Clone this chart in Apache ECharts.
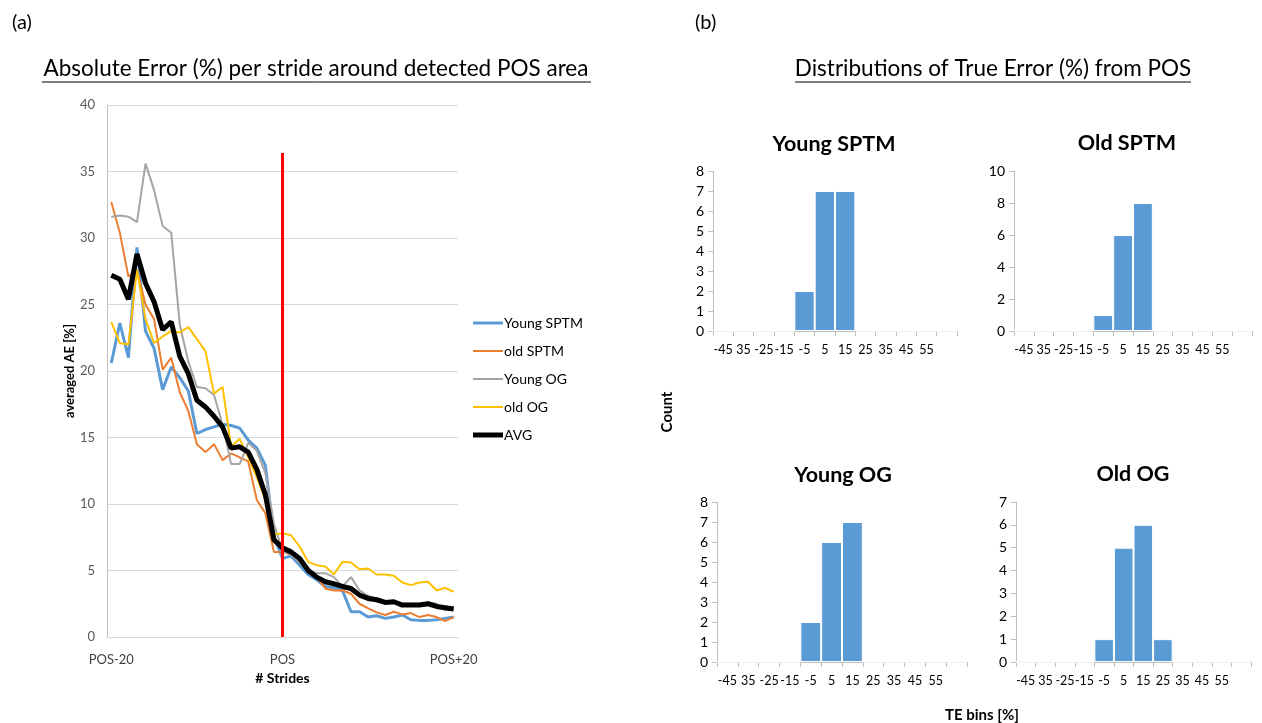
<!DOCTYPE html>
<html>
<head>
<meta charset="utf-8">
<script src="https://cdn.jsdelivr.net/npm/echarts@6/dist/echarts.min.js"></script>
<style>
  html, body { margin: 0; padding: 0; background: #fff; }
  #main { width: 1262px; height: 723px; }
</style>
</head>
<body>
<div id="main"></div>
<script>
// stride positions around detected POS
const strides = [
  'POS-20', 'POS-19', 'POS-18', 'POS-17', 'POS-16', 'POS-15', 'POS-14', 'POS-13', 'POS-12', 'POS-11',
  'POS-10', 'POS-9', 'POS-8', 'POS-7', 'POS-6', 'POS-5', 'POS-4', 'POS-3', 'POS-2', 'POS-1',
  'POS',
  'POS+1', 'POS+2', 'POS+3', 'POS+4', 'POS+5', 'POS+6', 'POS+7', 'POS+8', 'POS+9', 'POS+10',
  'POS+11', 'POS+12', 'POS+13', 'POS+14', 'POS+15', 'POS+16', 'POS+17', 'POS+18', 'POS+19', 'POS+20'
]

const youngSPTM = [20.6, 23.6, 21.0, 29.3, 23.0, 21.7, 18.6, 20.3, 19.5, 18.5,
  15.3, 15.6, 15.8, 16.0, 15.9, 15.7, 14.8, 14.2, 12.9, 7.6,
  5.9, 6.1, 5.4, 4.7, 4.3, 3.8, 3.7, 3.5, 1.9, 1.9,
  1.5, 1.6, 1.4, 1.5, 1.65, 1.3, 1.25, 1.25, 1.3, 1.4, 1.5]
const oldSPTM = [32.7, 30.4, 27.1, 27.6, 25.0, 23.9, 20.1, 21.0, 18.4, 17.0,
  14.5, 13.9, 14.5, 13.3, 13.8, 13.5, 13.2, 10.3, 9.3, 6.4,
  6.4, 6.2, 5.65, 5.0, 4.5, 3.65, 3.5, 3.5, 3.25, 2.5,
  2.15, 1.85, 1.65, 1.9, 1.7, 1.8, 1.5, 1.65, 1.5, 1.2, 1.5]
const youngOG = [31.6, 31.7, 31.6, 31.2, 35.6, 33.6, 30.9, 30.4, 23.5, 20.7,
  18.8, 18.7, 18.2, 16.0, 13.0, 13.0, 14.6, 14.0, 12.3, 8.5,
  6.5, 6.2, 5.6, 5.0, 4.8, 4.8, 4.5, 3.8, 4.5, 3.5,
  3.1, 2.9, 2.7, 2.7, 2.5, 2.5, 2.5, 2.6, 2.5, 2.0, 2.2]
const oldOG = [23.7, 22.1, 22.0, 27.6, 23.9, 22.1, 22.6, 23.0, 22.9, 23.3,
  22.4, 21.5, 18.3, 18.8, 14.3, 14.9, 13.5, 12.0, 10.3, 7.7,
  7.8, 7.65, 6.8, 5.65, 5.4, 5.3, 4.7, 5.65, 5.6, 5.1,
  5.15, 4.7, 4.7, 4.6, 4.1, 3.9, 4.1, 4.15, 3.5, 3.7, 3.4]
const avgAE = [27.2, 26.9, 25.4, 28.8, 26.6, 25.2, 23.1, 23.7, 21.1, 19.8,
  17.8, 17.3, 16.6, 15.8, 14.2, 14.3, 13.9, 12.6, 10.7, 7.3,
  6.7, 6.4, 5.9, 5.0, 4.5, 4.15, 4.0, 3.8, 3.65, 3.15,
  2.9, 2.8, 2.6, 2.65, 2.4, 2.4, 2.4, 2.5, 2.3, 2.2, 2.1]

// red marker at POS
const posMarkerTop = 36.4

// histogram bins (last bin "More" has no label)
const teBins = ['-45', '35', '-25', '-15', '-5', '5', '15', '25', '35', '45', '55', '']
const histYoungSPTM = [0, 0, 0, 0, 2, 7, 7, 0, 0, 0, 0, 0]
const histOldSPTM = [0, 0, 0, 0, 1, 6, 8, 0, 0, 0, 0, 0]
const histYoungOG = [0, 0, 0, 0, 2, 6, 7, 0, 0, 0, 0, 0]
const histOldOG = [0, 0, 0, 0, 1, 5, 6, 1, 0, 0, 0, 0]

const font = 'Lato'
const histGrids = [
  { name: 'Young SPTM', data: histYoungSPTM, max: 8, step: 1, grid: { left: 713, top: 171, width: 244, height: 160 }, tx: 829, ty: 141 },
  { name: 'Old SPTM', data: histOldSPTM, max: 10, step: 2, grid: { left: 1014, top: 171, width: 238, height: 160 }, tx: 1122, ty: 140 },
  { name: 'Young OG', data: histYoungOG, max: 8, step: 1, grid: { left: 717, top: 502, width: 250, height: 160 }, tx: 838, ty: 472 },
  { name: 'Old OG', data: histOldOG, max: 7, step: 1, grid: { left: 1016, top: 502, width: 235, height: 160 }, tx: 1128, ty: 471 }
]

const lineSeries = (name, data, color, width) => ({
  name,
  type: 'line',
  data,
  xAxisIndex: 0,
  yAxisIndex: 0,
  symbol: 'none',
  lineStyle: { color, width },
  itemStyle: { color },
  emphasis: { disabled: true }
})

// plain line legend icons, thickness like the series
const legendLine = (name, w) => ({ name, icon: 'path://M0,0H30V' + w + 'H0Z' })

const chart = echarts.init(document.getElementById('main'))

const option = {
  animation: false,
  textStyle: { fontFamily: font },
  title: [
    { text: '(a)', left: 7, top: 8, textStyle: { fontSize: 20, fontWeight: 'normal', color: '#000' } },
    { text: '(b)', left: 690, top: 8, textStyle: { fontSize: 20, fontWeight: 'normal', color: '#000' } }
  ].concat(histGrids.map(h => ({
    text: h.name,
    left: h.tx,
    top: h.ty - 13,
    textAlign: 'center',
    textStyle: { fontSize: 21.5, fontWeight: 'bold', color: '#000' }
  }))),
  graphic: [
    { type: 'text', x: 316, y: 69, style: { text: 'Absolute Error (%) per stride around detected POS area', font: '22.5px ' + font, fill: '#000', align: 'center', verticalAlign: 'middle' } },
    { type: 'line', shape: { x1: 42, y1: 82, x2: 591, y2: 82 }, style: { stroke: '#000', lineWidth: 1 } },
    { type: 'text', x: 993, y: 69, style: { text: 'Distributions of True Error (%) from POS', font: '22.5px ' + font, fill: '#000', align: 'center', verticalAlign: 'middle' } },
    { type: 'line', shape: { x1: 795, y1: 82, x2: 1191, y2: 82 }, style: { stroke: '#000', lineWidth: 1 } },
    { type: 'text', x: 667, y: 412, rotation: Math.PI / 2, style: { text: 'Count', font: 'bold 15px ' + font, fill: '#000', align: 'center', verticalAlign: 'middle' } },
    { type: 'text', x: 982, y: 715, style: { text: 'TE bins [%]', font: 'bold 15px ' + font, fill: '#000', align: 'center', verticalAlign: 'middle' } }
  ],
  legend: {
    orient: 'vertical',
    left: 468,
    top: 311,
    itemWidth: 30,
    itemHeight: 14,
    itemGap: 14,
    textStyle: { fontSize: 14, color: '#000', padding: [0, 0, 0, -4] },
    data: [
      legendLine('Young SPTM', 3),
      legendLine('old SPTM', 2),
      legendLine('Young OG', 2),
      legendLine('old OG', 2),
      legendLine('AVG', 5)
    ]
  },
  grid: [{ left: 107, top: 105, width: 351, height: 532 }].concat(histGrids.map(h => h.grid)),
  xAxis: [{
    gridIndex: 0,
    type: 'category',
    data: strides,
    boundaryGap: true,
    name: '# Strides',
    nameLocation: 'middle',
    nameGap: 34,
    nameTextStyle: { fontSize: 14, fontWeight: 'bold', color: '#000' },
    axisLine: { lineStyle: { color: '#D9D9D9' } },
    axisTick: { show: false },
    axisLabel: { interval: 19, color: '#404040', fontSize: 13, margin: 16 }
  }].concat(histGrids.map((h, i) => ({
    gridIndex: i + 1,
    type: 'category',
    data: teBins,
    boundaryGap: true,
    axisLine: { lineStyle: { color: '#BFBFBF' } },
    axisTick: { show: true, length: 5, interval: 0, lineStyle: { color: '#BFBFBF' } },
    axisLabel: { interval: 0, color: '#000', fontSize: 12.5, margin: 12 }
  }))),
  yAxis: [{
    gridIndex: 0,
    type: 'value',
    min: 0,
    max: 40,
    interval: 5,
    name: 'averaged AE [%]',
    nameLocation: 'middle',
    nameGap: 26,
    nameTextStyle: { fontSize: 13, fontWeight: 'bold', color: '#000' },
    axisLine: { show: true, lineStyle: { color: '#BFBFBF' } },
    axisTick: { show: false },
    splitLine: { lineStyle: { color: '#D9D9D9' } },
    axisLabel: { color: '#595959', fontSize: 13, margin: 12 }
  }].concat(histGrids.map((h, i) => ({
    gridIndex: i + 1,
    type: 'value',
    min: 0,
    max: h.max,
    interval: h.step,
    axisLine: { show: true, lineStyle: { color: '#BFBFBF' } },
    axisTick: { show: true, length: 5, lineStyle: { color: '#BFBFBF' } },
    splitLine: { show: false },
    axisLabel: { color: '#000', fontSize: 14, margin: 9 }
  }))),
  series: [
    lineSeries('Young SPTM', youngSPTM, '#5B9BD5', 3),
    lineSeries('old SPTM', oldSPTM, '#ED7D31', 2),
    lineSeries('Young OG', youngOG, '#A5A5A5', 2),
    lineSeries('old OG', oldOG, '#FFC000', 2),
    Object.assign(lineSeries('AVG', avgAE, '#000000', 5), {
      markLine: {
        silent: true,
        symbol: 'none',
        label: { show: false },
        lineStyle: { color: '#FF0000', width: 3, type: 'solid' },
        data: [[{ xAxis: 'POS', yAxis: 0 }, { xAxis: 'POS', yAxis: posMarkerTop }]]
      }
    })
  ].concat(histGrids.map((h, i) => ({
    name: h.name,
    type: 'bar',
    xAxisIndex: i + 1,
    yAxisIndex: i + 1,
    data: h.data,
    barWidth: '100%',
    itemStyle: { color: '#5B9BD5', borderColor: '#fff', borderWidth: 1 },
    emphasis: { disabled: true }
  })))
}

chart.setOption(option)
</script>
</body>
</html>
